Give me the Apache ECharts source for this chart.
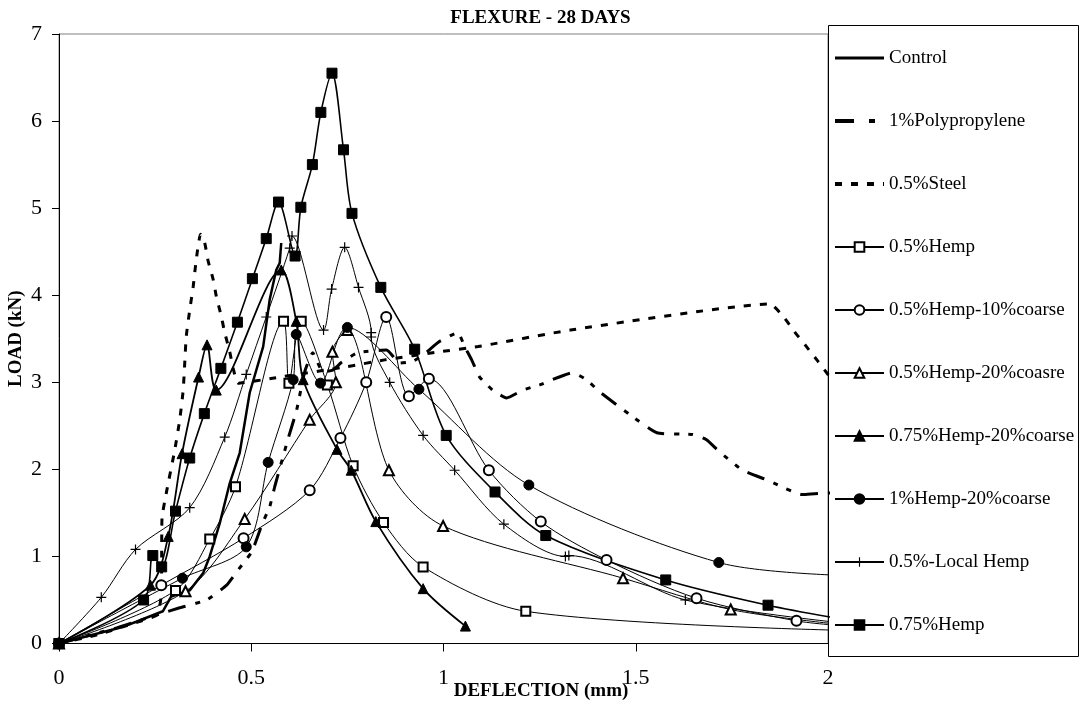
<!DOCTYPE html>
<html>
<head>
<meta charset="utf-8">
<script src="https://cdn.jsdelivr.net/npm/echarts@6/dist/echarts.min.js"></script>
<style>
html,body{margin:0;padding:0;background:#fff;}
#chart{width:1081px;height:704px;}
</style>
</head>
<body>
<div id="chart"></div>
<script>
// ---- data: [deflection (mm), load (kN)] ----
const seriesNames = ['Control','1%Polypropylene','0.5%Steel','0.5%Hemp','0.5%Hemp-10%coarse','0.5%Hemp-20%coasre','0.75%Hemp-20%coarse','1%Hemp-20%coarse','0.5%-Local Hemp','0.75%Hemp'];
const xTicks = [0, 0.5, 1, 1.5, 2];
const yTicks = [0, 1, 2, 3, 4, 5, 6, 7];

const control = [[0,0],[0.158,0.18],[0.201,0.25],[0.270,0.37],[0.292,0.54],[0.340,0.61],[0.375,0.81],[0.392,1.00],[0.418,1.38],[0.444,1.84],[0.470,2.19],[0.496,2.88],[0.531,3.41],[0.548,3.95],[0.565,4.29],[0.574,4.37],[0.578,4.60]];
const polypropylene = [[0,0],[0.15,0.18],[0.270,0.35],[0.314,0.41],[0.384,0.50],[0.436,0.67],[0.465,0.84],[0.501,1.05],[0.530,1.39],[0.548,1.57],[0.561,1.80],[0.595,2.34],[0.618,2.68],[0.639,3.12],[0.660,3.34],[0.686,3.12],[0.712,3.14],[0.735,3.23],[0.777,3.34],[0.852,3.37],[0.886,3.22],[0.920,3.24],[0.946,3.31],[0.990,3.47],[1.037,3.57],[1.055,3.41],[1.073,3.26],[1.094,3.06],[1.128,2.91],[1.164,2.82],[1.206,2.91],[1.250,2.97],[1.336,3.11],[1.372,3.03],[1.406,2.89],[1.484,2.63],[1.555,2.42],[1.648,2.40],[1.684,2.34],[1.718,2.20],[1.778,1.99],[1.840,1.88],[1.934,1.71],[1.965,1.72],[2.05,1.74]];
const steel = [[0,0],[0.10,0.10],[0.20,0.24],[0.255,0.33],[0.266,0.55],[0.267,1.00],[0.268,1.45],[0.280,1.75],[0.301,2.22],[0.314,2.57],[0.323,2.91],[0.327,3.22],[0.331,3.53],[0.340,3.83],[0.349,4.10],[0.357,4.41],[0.368,4.70],[0.379,4.60],[0.388,4.39],[0.401,4.18],[0.409,3.99],[0.422,3.76],[0.431,3.57],[0.444,3.35],[0.453,3.16],[0.466,2.99],[0.56,3.05],[0.75,3.18],[0.85,3.26],[0.99,3.35],[1.09,3.41],[1.33,3.60],[1.849,3.90],[1.883,3.76],[1.913,3.58],[1.944,3.41],[1.974,3.24],[2.05,2.80]];
const hemp05 = [[0,0],[0.303,0.61],[0.392,1.20],[0.459,1.80],[0.584,3.70],[0.598,2.99],[0.630,3.70],[0.698,2.97],[0.765,2.04],[0.844,1.39],[0.947,0.88],[1.214,0.37],[2.05,0.15]];
const hemp05c10 = [[0,0],[0.266,0.67],[0.480,1.21],[0.652,1.76],[0.732,2.36],[0.799,3.00],[0.851,3.75],[0.910,2.84],[0.962,3.04],[1.118,1.99],[1.253,1.40],[1.424,0.96],[1.658,0.52],[1.918,0.26],[2.05,0.20]];
const hemp05c20 = [[0,0],[0.329,0.60],[0.483,1.43],[0.652,2.57],[0.720,3.00],[0.711,3.35],[0.750,3.60],[0.858,1.99],[0.999,1.35],[1.467,0.75],[1.747,0.39],[2.05,0.21]];
const hemp075c20 = [[0,0],[0.238,0.67],[0.284,1.23],[0.320,2.18],[0.363,3.06],[0.385,3.43],[0.409,2.91],[0.578,4.29],[0.617,3.70],[0.635,3.03],[0.723,2.23],[0.760,1.99],[0.824,1.40],[0.947,0.63],[1.057,0.20]];
const hemp1c20 = [[0,0],[0.321,0.75],[0.487,1.11],[0.544,2.08],[0.609,3.03],[0.617,3.55],[0.680,2.99],[0.750,3.63],[0.936,2.92],[1.222,1.82],[1.716,0.93],[2.05,0.78]];
const localHemp = [[0,0],[0.110,0.53],[0.199,1.08],[0.340,1.56],[0.431,2.37],[0.487,3.09],[0.539,3.75],[0.600,4.54],[0.606,4.68],[0.688,3.60],[0.709,4.07],[0.743,4.55],[0.779,4.09],[0.812,3.57],[0.812,3.52],[0.860,3.00],[0.947,2.39],[1.029,1.99],[1.157,1.37],[1.317,1.00],[1.326,1.01],[1.629,0.50],[2.05,0.23]];
const hemp075 = [[0,0],[0.220,0.50],[0.244,1.01],[0.267,0.88],[0.303,1.52],[0.340,2.13],[0.378,2.64],[0.421,3.16],[0.464,3.69],[0.503,4.19],[0.539,4.65],[0.571,5.07],[0.614,4.45],[0.629,5.01],[0.659,5.50],[0.681,6.10],[0.710,6.55],[0.740,5.67],[0.762,4.94],[0.837,4.09],[0.925,3.38],[1.007,2.39],[1.134,1.74],[1.266,1.24],[1.578,0.73],[1.844,0.44],[2.05,0.27]];

const FONT = 'Liberation Serif';
const plusPath = 'path://M4.4,0H5.6V4.4H10V5.6H5.6V10H4.4V5.6H0V4.4H4.4Z';

function lineSeries(name, data, opts) {
  return Object.assign({
    name: name,
    type: 'line',
    data: data,
    clip: true,
    smooth: 0.3,
    symbolSize: 9,
    showAllSymbol: true,
    color: '#000',
    itemStyle: { color: '#000', borderColor: '#000', borderWidth: 1 },
    lineStyle: { color: '#000', width: 1 },
    emphasis: { disabled: true },
    animation: false
  }, opts);
}

const legendData = seriesNames.map(function (n, i) {
  if (i === 0) return { name: n, itemStyle: { opacity: 0 }, lineStyle: { width: 3, type: 'solid' } };
  if (i === 1) return { name: n, itemStyle: { opacity: 0 }, lineStyle: { width: 4, type: [19, 15, 6, 20] } };
  if (i === 2) return { name: n, itemStyle: { opacity: 0 }, lineStyle: { width: 4, type: [7, 9] } };
  return { name: n };
});

const chart = echarts.init(document.getElementById('chart'), null, { renderer: 'canvas' });
chart.setOption({
  animation: false,
  backgroundColor: '#fff',
  title: {
    text: 'FLEXURE - 28 DAYS',
    left: 'center',
    top: 4,
    textStyle: { fontFamily: FONT, fontWeight: 'bold', fontSize: 19, color: '#000' }
  },
  grid: {
    left: 59, right: 253, top: 34, bottom: 60.5,
    outerBoundsMode: 'none', containLabel: false,
    show: true, borderColor: '#808080', borderWidth: 1, backgroundColor: 'transparent'
  },
  xAxis: {
    type: 'value', min: xTicks[0], max: xTicks[xTicks.length - 1], interval: 0.5,
    axisLine: { show: true, lineStyle: { color: '#000', width: 1 } },
    axisTick: { show: true, length: 8, lineStyle: { color: '#000' } },
    axisLabel: { fontFamily: FONT, fontSize: 22, color: '#000', margin: 24 },
    splitLine: { show: false }
  },
  yAxis: {
    type: 'value', min: yTicks[0], max: yTicks[yTicks.length - 1], interval: 1,
    name: 'LOAD (kN)', nameLocation: 'middle', nameGap: 33, nameRotate: 90, nameMoveOverlap: false,
    nameTextStyle: { fontFamily: FONT, fontWeight: 'bold', fontSize: 19, color: '#000' },
    axisLine: { show: true, lineStyle: { color: '#000', width: 1 } },
    axisTick: { show: true, length: 7, lineStyle: { color: '#000' } },
    axisLabel: { fontFamily: FONT, fontSize: 22, color: '#000', margin: 17 },
    splitLine: { show: false }
  },
  legend: {
    orient: 'vertical',
    left: 833, top: 48,
    itemWidth: 49, itemHeight: 12, itemGap: 43,
    padding: 0,
    data: legendData,
    textStyle: { fontFamily: FONT, fontSize: 19, color: '#000', lineHeight: 20 },
    selectedMode: false
  },
  graphic: [
    { type: 'rect', z: 1, shape: { x: 828.5, y: 25.5, width: 250, height: 631 },
      style: { fill: '#fff', stroke: '#000', lineWidth: 1 } },
    { type: 'text', z: 5, x: 541, y: 691,
      style: { text: 'DEFLECTION (mm)', fontFamily: FONT, fontWeight: 'bold', fontSize: 19, fill: '#000', align: 'center', verticalAlign: 'middle' } }
  ],
  series: [
    lineSeries(seriesNames[0], control, { smooth: false, symbol: 'none', lineStyle: { color: '#000', width: 2.5 } }),
    lineSeries(seriesNames[1], polypropylene, { smooth: 0.15, symbol: 'none', lineStyle: { color: '#000', width: 3, type: [18, 10, 5, 9, 5, 10] } }),
    lineSeries(seriesNames[2], steel, { smooth: 0.15, symbol: 'none', lineStyle: { color: '#000', width: 3, type: [7, 9] } }),
    lineSeries(seriesNames[3], hemp05, { symbol: 'emptyRect' }),
    lineSeries(seriesNames[4], hemp05c10, { symbol: 'emptyCircle', symbolSize: 10 }),
    lineSeries(seriesNames[5], hemp05c20, { symbol: 'emptyTriangle', symbolSize: 10 }),
    lineSeries(seriesNames[6], hemp075c20, { symbol: 'triangle', symbolSize: 10, lineStyle: { color: '#000', width: 1.8 } }),
    lineSeries(seriesNames[7], hemp1c20, { symbol: 'circle', symbolSize: 10 }),
    lineSeries(seriesNames[8], localHemp, { symbol: plusPath, symbolSize: 10, itemStyle: { color: '#000', borderWidth: 0 } }),
    lineSeries(seriesNames[9], hemp075, { symbol: 'rect', symbolSize: 10, lineStyle: { color: '#000', width: 1.6 } })
  ]
});
</script>
</body>
</html>
